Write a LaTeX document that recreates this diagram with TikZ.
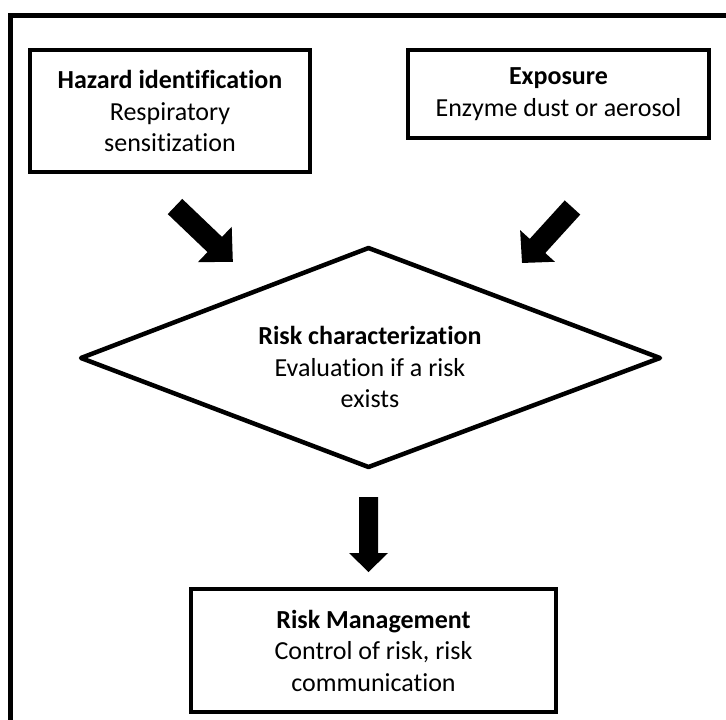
\documentclass[tikz,border=0pt]{standalone}
\usepackage{fontspec}
\setmainfont[Ligatures={NoCommon}]{Carlito}
\begin{document}
\begin{tikzpicture}[x=1pt,y=1pt,
  boxstyle/.style={draw=black, line width=4pt, rectangle, align=center, inner sep=0pt,
    font=\fontsize{26}{31.5}\selectfont},
  txtstyle/.style={align=center, inner sep=0pt, font=\fontsize{26}{31.5}\selectfont},
  pics/blockarrow/.style n args={4}{code={
    \fill[black] (0,{-#2/2}) -- ({#1-#3},{-#2/2}) -- ({#1-#3},{-#4/2}) -- (#1,0)
      -- ({#1-#3},{#4/2}) -- ({#1-#3},{#2/2}) -- (0,{#2/2}) -- cycle;}}
]
\useasboundingbox (0,0) rectangle (726,-720);
% outer frame (right and bottom sides lie outside the picture)
\draw[line width=5pt] (10,-760) |- (760,-15.5);

\node[boxstyle, minimum width=280pt, minimum height=122pt] (hazard) at (170,-111)
  {\textbf{Hazard identification}\\Respiratory\\sensitization};
\node[boxstyle, minimum width=301pt, minimum height=88pt] (exposure) at (558.5,-94)
  {\textbf{Exposure}\\Enzyme dust or aerosol};

% diamond
\coordinate (dl) at (81,-358);
\coordinate (dt) at (368.5,-248);
\coordinate (dr) at (660,-358);
\coordinate (db) at (368.5,-467);
\draw[line width=4.5pt, line join=round] (dl) -- (dt) -- (dr) -- (db) -- cycle;
\node[txtstyle] (risk) at (370,-367)
  {\textbf{Risk characterization}\\Evaluation if a risk\\exists};

\node[boxstyle, minimum width=365pt, minimum height=123pt] (manage) at (373.5,-650.5)
  {\textbf{Risk Management}\\Control of risk, risk\\communication};

% block arrows
\pic[rotate=-43.7] at (175,-206.5) {blockarrow={80}{21}{25}{49}};
\pic[rotate=227.7] at (572.5,-207.5) {blockarrow={75}{21}{23}{47}};
\pic[rotate=-90] at (368.5,-497) {blockarrow={75}{19}{19}{39}};
\end{tikzpicture}
\end{document}
